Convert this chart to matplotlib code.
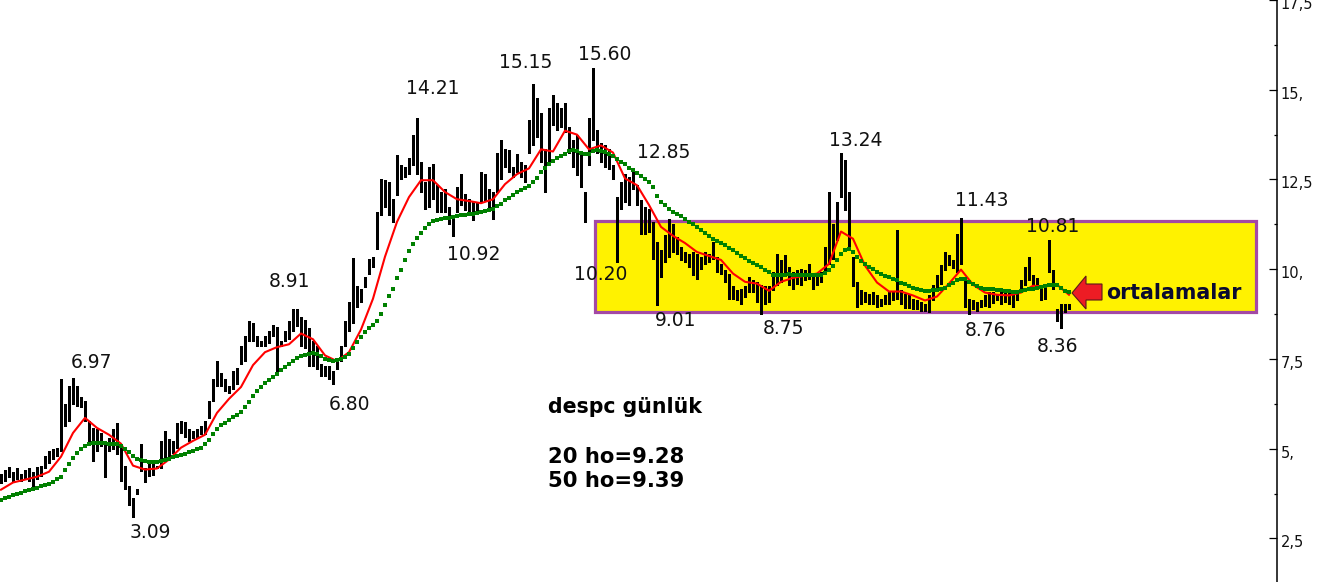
import numpy as np
import matplotlib
matplotlib.use('Agg')
import matplotlib.pyplot as plt
from matplotlib.patches import Rectangle, Polygon
from matplotlib.transforms import ScaledTranslation

W, H = 1322, 582

# gunluk fiyat, her cubuk icin en yuksek / en dusuk
highs = [
    4.30, 4.40, 4.50, 4.35, 4.45, 4.30, 4.40, 4.45, 4.35, 4.50,
    4.53, 4.80, 4.94, 5.00, 5.03, 6.94, 6.25, 6.75, 6.97, 6.75,
    6.45, 6.33, 5.78, 5.58, 5.55, 5.44, 5.14, 5.30, 5.55, 5.72,
    5.03, 4.53, 3.97, 3.64, 3.89, 5.14, 4.47, 4.61, 4.60, 4.53,
    5.22, 5.50, 5.28, 5.22, 5.72, 5.78, 5.75, 5.55, 5.50, 5.55,
    5.64, 5.78, 6.33, 6.94, 7.44, 7.10, 6.94, 6.75, 7.16, 7.24,
    7.85, 8.13, 8.55, 8.49, 8.13, 7.99, 8.13, 8.27, 8.46, 8.40,
    7.99, 8.27, 8.55, 8.88, 8.88, 8.68, 8.60, 8.35, 7.99, 7.85,
    7.35, 7.30, 7.30, 7.16, 7.44, 7.85, 8.55, 9.10, 10.30, 9.52,
    9.46, 9.79, 10.29, 10.35, 11.60, 12.50, 12.48, 12.42, 11.95, 13.17,
    12.90, 12.84, 13.10, 13.73, 14.21, 12.98, 12.42, 12.84, 12.92, 12.34,
    12.15, 12.23, 11.73, 11.51, 12.29, 12.65, 12.09, 11.95, 11.87, 11.87,
    12.70, 12.65, 12.23, 12.15, 13.25, 13.59, 13.34, 13.31, 12.84, 13.20,
    12.98, 12.89, 14.17, 15.15, 14.78, 14.36, 13.34, 14.50, 14.86, 14.64,
    14.50, 14.64, 13.95, 13.61, 13.73, 13.25, 12.15, 14.22, 15.60, 13.89,
    13.53, 13.45, 13.34, 12.89, 12.00, 12.42, 12.65, 12.56, 12.76, 12.34,
    11.93, 11.73, 11.68, 11.32, 10.76, 10.54, 10.95, 11.40, 11.26, 10.90,
    10.62, 10.48, 10.43, 10.48, 10.43, 10.35, 10.48, 10.43, 10.76, 10.35,
    10.15, 9.99, 9.88, 9.52, 9.43, 9.46, 9.52, 9.79, 9.71, 9.65,
    9.57, 9.52, 9.52, 9.93, 10.43, 10.26, 10.40, 10.07, 9.93, 9.99,
    10.01, 9.99, 10.15, 9.88, 9.88, 9.93, 10.62, 12.15, 11.26, 11.87,
    13.24, 13.03, 12.15, 10.35, 9.65, 9.43, 9.38, 9.32, 9.38, 9.29,
    9.18, 9.29, 9.38, 9.38, 11.09, 9.43, 9.32, 9.27, 9.18, 9.15,
    9.10, 9.02, 9.29, 9.57, 9.85, 10.12, 10.48, 10.40, 10.26, 10.98,
    11.43, 9.71, 9.18, 9.15, 9.10, 9.15, 9.27, 9.38, 9.38, 9.32,
    9.38, 9.46, 9.38, 9.29, 9.43, 9.71, 10.07, 10.35, 9.85, 9.76,
    9.52, 9.57, 10.81, 9.99, 8.88, 9.04, 9.04, 9.02]
lows = [
    4.05, 4.10, 4.20, 4.10, 4.15, 4.10, 4.15, 4.10, 3.95, 4.15,
    4.25, 4.45, 4.60, 4.72, 4.80, 4.94, 5.64, 5.78, 6.25, 6.20,
    6.15, 5.78, 5.22, 4.67, 4.95, 5.08, 4.20, 4.94, 5.00, 4.86,
    4.11, 3.89, 3.42, 3.09, 3.75, 4.39, 4.06, 4.25, 4.28, 4.45,
    4.47, 4.75, 4.80, 4.89, 5.03, 5.44, 5.33, 5.22, 5.30, 5.33,
    5.42, 5.42, 5.86, 6.33, 6.75, 6.75, 6.60, 6.55, 6.66, 6.80,
    7.35, 7.44, 7.99, 7.99, 7.85, 7.85, 7.85, 7.94, 8.13, 7.10,
    7.85, 7.99, 8.05, 8.27, 8.41, 7.85, 7.80, 7.30, 7.30, 7.22,
    7.02, 7.02, 6.94, 6.80, 7.22, 7.44, 7.85, 8.27, 8.49, 8.96,
    9.10, 9.50, 9.88, 10.07, 10.57, 11.51, 11.73, 11.51, 11.32, 12.06,
    12.50, 12.56, 12.65, 12.89, 12.65, 12.15, 11.68, 11.73, 11.95, 11.59,
    11.59, 11.59, 11.26, 10.92, 11.59, 11.79, 11.65, 11.59, 11.37, 11.54,
    11.87, 11.93, 11.73, 11.40, 12.15, 12.50, 12.84, 12.70, 12.56, 12.70,
    12.56, 12.42, 13.25, 13.45, 13.67, 12.98, 12.15, 12.98, 14.03, 13.89,
    13.95, 13.81, 13.25, 12.84, 12.62, 12.29, 11.32, 12.89, 13.61, 13.25,
    12.98, 12.84, 12.78, 12.50, 10.20, 11.68, 11.87, 11.79, 12.23, 11.79,
    10.98, 10.98, 11.04, 10.29, 9.01, 9.79, 10.20, 10.35, 10.48, 10.43,
    10.26, 10.20, 10.07, 9.85, 9.74, 10.01, 10.15, 10.20, 10.29, 9.93,
    9.88, 9.65, 9.18, 9.18, 9.15, 9.02, 9.24, 9.38, 9.38, 9.10,
    8.75, 9.02, 9.10, 9.43, 9.57, 9.65, 9.88, 9.57, 9.46, 9.60,
    9.57, 9.71, 9.74, 9.46, 9.57, 9.65, 9.88, 10.15, 10.29, 10.82,
    12.00, 11.65, 10.62, 9.52, 8.96, 9.02, 9.10, 9.02, 9.04, 8.96,
    8.99, 9.04, 9.02, 9.15, 9.18, 9.02, 8.91, 8.93, 8.88, 8.88,
    8.85, 8.85, 8.82, 9.15, 9.43, 9.60, 9.99, 10.12, 10.04, 9.93,
    10.15, 8.96, 8.76, 8.88, 8.85, 8.96, 8.99, 8.96, 9.07, 9.15,
    9.04, 9.10, 9.02, 8.96, 9.15, 9.38, 9.57, 9.71, 9.60, 9.52,
    9.15, 9.18, 9.93, 9.46, 8.55, 8.36, 8.82, 8.88]

# 20 gunluk ortalama (her 3 cubukta bir okundu)
ma20 = [
    3.86, 4.06, 4.14, 4.22, 4.36, 4.78, 5.44, 5.86, 5.58, 5.39,
    5.14, 4.53, 4.42, 4.45, 4.70, 5.03, 5.22, 5.39, 6.00, 6.39,
    6.72, 7.33, 7.69, 7.83, 7.91, 8.21, 8.05, 7.60, 7.44, 7.69,
    8.32, 9.18, 10.35, 11.32, 12.01, 12.48, 12.48, 12.15, 11.95, 11.90,
    11.84, 11.95, 12.37, 12.65, 12.81, 13.34, 13.28, 13.86, 13.75, 13.34,
    13.45, 13.25, 12.53, 12.34, 11.79, 11.18, 10.93, 10.73, 10.48, 10.37,
    10.26, 9.88, 9.65, 9.60, 9.40, 9.65, 9.76, 9.82, 9.88, 10.15,
    11.05, 10.85, 10.10, 9.63, 9.38, 9.38, 9.27, 9.13, 9.24, 9.60,
    9.99, 9.57, 9.35, 9.29, 9.27, 9.35, 9.54, 9.52, 9.57, 9.29]

# 50 gunluk ortalama
ma50 = [
    3.58, 3.62, 3.66, 3.71, 3.75, 3.78, 3.82, 3.86, 3.88, 3.92,
    3.95, 3.98, 4.03, 4.08, 4.15, 4.22, 4.40, 4.58, 4.75, 4.89,
    4.98, 5.07, 5.12, 5.15, 5.16, 5.15, 5.15, 5.14, 5.14, 5.14,
    5.07, 4.99, 4.90, 4.80, 4.72, 4.68, 4.66, 4.64, 4.63, 4.64,
    4.66, 4.69, 4.72, 4.76, 4.80, 4.82, 4.85, 4.90, 4.94, 4.98,
    5.03, 5.12, 5.25, 5.40, 5.55, 5.65, 5.72, 5.80, 5.88, 5.95,
    6.03, 6.15, 6.30, 6.48, 6.61, 6.72, 6.82, 6.92, 7.00, 7.08,
    7.18, 7.28, 7.37, 7.44, 7.52, 7.58, 7.62, 7.65, 7.66, 7.63,
    7.57, 7.51, 7.46, 7.44, 7.46, 7.50, 7.56, 7.65, 7.80, 7.96,
    8.10, 8.25, 8.37, 8.45, 8.55, 8.75, 9.00, 9.25, 9.46, 9.75,
    9.98, 10.25, 10.52, 10.70, 10.87, 11.00, 11.14, 11.25, 11.34, 11.38,
    11.40, 11.42, 11.44, 11.45, 11.47, 11.50, 11.52, 11.53, 11.55, 11.57,
    11.60, 11.62, 11.65, 11.68, 11.75, 11.83, 11.92, 11.99, 12.07, 12.15,
    12.22, 12.27, 12.33, 12.42, 12.55, 12.70, 12.82, 12.92, 13.02, 13.10,
    13.15, 13.22, 13.28, 13.31, 13.30, 13.25, 13.20, 13.22, 13.28, 13.31,
    13.30, 13.26, 13.20, 13.15, 13.07, 13.00, 12.92, 12.83, 12.76, 12.68,
    12.60, 12.50, 12.43, 12.28, 12.05, 11.88, 11.78, 11.68, 11.60, 11.53,
    11.47, 11.41, 11.33, 11.27, 11.18, 11.10, 11.02, 10.93, 10.85, 10.78,
    10.73, 10.67, 10.60, 10.53, 10.46, 10.38, 10.30, 10.23, 10.17, 10.12,
    10.05, 9.98, 9.91, 9.85, 9.85, 9.84, 9.85, 9.86, 9.85, 9.84,
    9.85, 9.84, 9.85, 9.84, 9.84, 9.85, 9.90, 9.98, 10.10, 10.25,
    10.42, 10.54, 10.56, 10.47, 10.34, 10.22, 10.14, 10.07, 10.00, 9.93,
    9.87, 9.82, 9.79, 9.74, 9.69, 9.63, 9.58, 9.53, 9.48, 9.45,
    9.42, 9.40, 9.40, 9.41, 9.43, 9.45, 9.48, 9.55, 9.62, 9.70,
    9.74, 9.72, 9.65, 9.58, 9.53, 9.49, 9.46, 9.45, 9.44, 9.42,
    9.41, 9.40, 9.39, 9.38, 9.38, 9.40, 9.43, 9.45, 9.46, 9.48,
    9.50, 9.52, 9.55, 9.57, 9.55, 9.48, 9.40, 9.36]

# tepe / dip etiketleri
peak_labels = ['6.97', '3.09', '8.91', '6.80', '14.21', '10.92', '15.15', '15.60', '12.85',
               '10.20', '9.01', '8.75', '13.24', '11.43', '8.76', '10.81', '8.36']
peak_px = [(91, 362), (150, 533), (290, 281), (349, 404), (433, 88), (474, 255), (526, 62), (605, 55), (664, 153),
           (601, 275), (676, 321), (783, 329), (856, 140), (982, 201), (986, 331), (1053, 226), (1058, 347)]

y_major = [2.5, 5, 7.5, 10, 12.5, 15, 17.5]
y_major_labels = ['2,5', '5,', '7,5', '10,', '12,5', '15,', '17,5']
y_minor = [3.75, 6.25, 8.75, 11.25, 13.75, 16.25]

band_low, band_high = 8.8, 11.35


def fx(x, y):
    return x / W, 1 - y / H


fig = plt.figure(figsize=(W / 100, H / 100), dpi=100)
ax = fig.add_axes([0, 0, 1, 1])
ax.set_xlim(0, W)
ax.set_ylim(15 - (H - 87) / 36.1, 15 + 87 / 36.1)

bars = 1 + 4 * np.arange(len(highs))
highs_a = np.array(highs)
lows_a = np.array(lows)
rng = highs_a - lows_a

# sari kutu
ax.add_patch(Rectangle((594.5, band_low), 661, band_high - band_low, fc='#FFF200', ec='none', zorder=2))
ax.add_patch(Rectangle((594.5, band_low), 661, band_high - band_low, fc='none', ec='#A349A4', lw=2.3, zorder=2.6))

# fitil ince, govde kalin
ax.vlines(bars, lows_a, highs_a, color='black', lw=0.9, zorder=3, antialiased=False)
ax.vlines(bars, lows_a + 0.1 * rng, highs_a - 0.35 * rng, color='black', lw=2.1, zorder=3, antialiased=False)
ax.plot(bars[::3][:len(ma20)], ma20, color='#FF0000', lw=1.5, zorder=4)
ax.plot(bars[:len(ma50)], ma50, ls='none', marker='s', ms=3.3, mew=0, color='#008000', zorder=5)

for txt, (px, py) in zip(peak_labels, peak_px):
    fig.text(*fx(px, py), txt, fontsize=13.5, ha='center', va='center', color='#111111', zorder=2.5)

# metinler
ax.text(*fx(548, 407), 'despc günlük', transform=fig.transFigure, fontsize=14.8, fontweight='bold', va='center')
ax.text(*fx(548, 457), '20 ho=9.28', transform=fig.transFigure, fontsize=15.2, fontweight='bold', va='center')
ax.text(*fx(548, 481), '50 ho=9.39', transform=fig.transFigure, fontsize=15.2, fontweight='bold', va='center')
ax.text(*fx(1106, 293), 'ortalamalar', transform=fig.transFigure, fontsize=14.8, fontweight='bold', va='center',
        color='#0A0A30', zorder=6)

# ok
arrow_px = [(1072, 293), (1086, 276), (1086, 284), (1102, 284), (1102, 300), (1086, 300), (1086, 309)]
ax.add_patch(Polygon([fx(*p) for p in arrow_px], closed=True, transform=fig.transFigure,
                     fc='#ED1C24', ec='#5A1A1A', lw=0.8, zorder=6))

# eksen
for s in ['top', 'left', 'bottom']:
    ax.spines[s].set_visible(False)
ax.spines['right'].set_position(('data', 1276.5))
ax.spines['right'].set_linewidth(1.1)
ax.set_xticks([])
ax.yaxis.tick_right()
ax.set_yticks(y_major)
ax.set_yticklabels(y_major_labels)
ax.set_yticks(y_minor, minor=True)
ax.tick_params(axis='y', which='major', direction='in', length=6, width=0.9, pad=3, labelsize=10.5, labelcolor='#111111')
ax.tick_params(axis='y', which='minor', direction='in', length=2.5, width=0.9)
off = ScaledTranslation(0, -3 / 100, fig.dpi_scale_trans)
for lab in ax.get_yticklabels():
    lab.set_transform(lab.get_transform() + off)

fig.savefig('out.png', dpi=100)
